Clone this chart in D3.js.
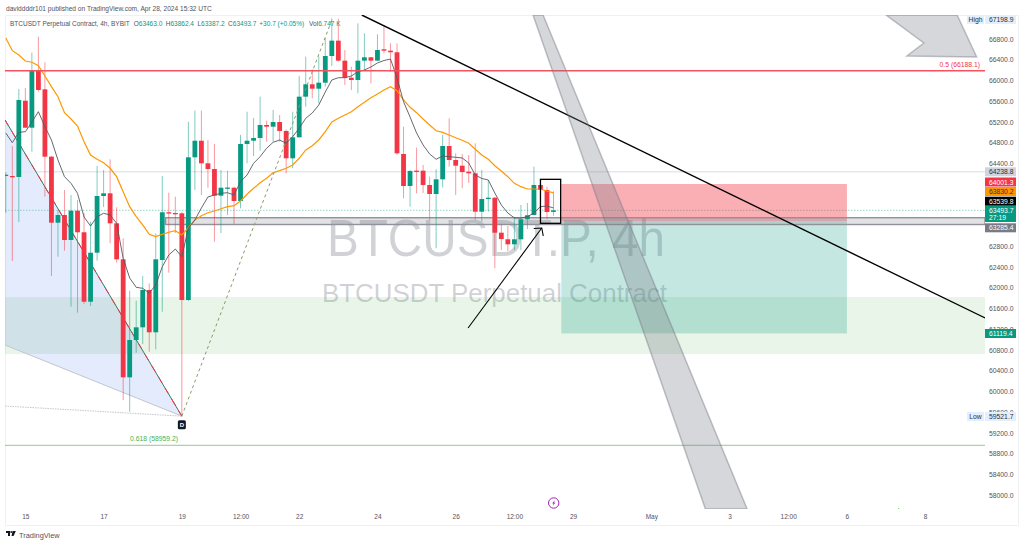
<!DOCTYPE html>
<html>
<head>
<meta charset="utf-8">
<script src="https://cdn.jsdelivr.net/npm/d3@7"></script>
<style>
  html, body { margin: 0; padding: 0; background: #fff; overflow: hidden; }
  text { font-family: "Liberation Sans", sans-serif; }
</style>
</head>
<body>
<div id="chart"></div>
<script>
///// DATA /////
// 4h bars, the first one is Apr 14 20:00
let opens = [64156,64156,64137,65609,65088,66188,65829,64529,63255,63404,62921,63487,63070,61730,62676,63770,63822,63243,62548,60271,60991,61236,61956,61140,62535,63456,63442,63436,61763,64517,64837,64401,64291,63776,63919,63930,63674,64774,64837,64890,65141,65108,65198,65025,64498,64903,65687,65926,65841,65957,66472,66768,66382,66053,66009,66382,66447,66382,66602,66575,66544,64581,63963,64259,64259,63983,63809,64092,64735,64465,64355,64239,64208,63467,63712,63737,63062,62935,62838,62935,63321,63404,63983,63886,63463];
let highs = [64233,64735,65835,65855,66536,66845,66351,64542,63487,63886,63790,63693,63442,63274,64349,64272,64479,63552,62954,61943,61750,62226,62085,63050,64156,63834,63757,63461,65204,65417,65417,64851,64774,64272,64258,63950,64948,65397,65276,65687,65224,65430,65333,65057,65397,66086,66459,66216,66459,66820,67198.9,67190,66588,66266,67103,66910,66453,66891,67071,66717,66717,65108,64272,64702,64369,64143,64286,64948,65270,64594,64581,64562,64787,64272,64079,63751,63230,63191,63371,63597,63635,64336,64098,63950,63862.4];
let lows = [63442,62516,63268,65083,64625,65783,63757,62226,62599,62715,61634,61518,61686,61647,62522,63558,62857,62483,59833,59607,60746,60914,60765,60811,61537,62290,63056,59521.7,61744,63886,63790,63930,62888,63056,63404,63230,63533,64401,64542,64645,64818,64818,64818,64208,64305,64899,65494,65656,65559,65880,66279,66362,65913,65816,65752,66202,65945,66376,66524,66169,64562,63726,63564,63822,63828,63307,62761,63938,64336,63790,63919,64021,63307,63274,63467,62375,62728,62709,62728,62728,63133,63394,63876,63321,63387.2];
let closes = [64181,64137,65623,65088,66188,65816,64529,63255,63404,62921,63487,63070,61730,62676,63770,63822,63243,62548,60271,60991,61236,61956,61140,62548,63456,63436,63430,61763,64517,64837,64401,64291,63776,63930,63934,63674,64774,64837,64890,65141,65108,65198,65025,64498,64903,65687,65926,65841,65957,66472,66768,66382,66053,66009,66382,66447,66382,66588,66575,66544,64594,63963,64253,64239,63983,63809,64092,64735,64465,64355,64233,64208,63467,63712,63737,63062,62940,62838,62935,63321,63398,63983,63886,63461,63493.7];
let emaSlow = [66820,66575,66492,66376,66351,66285,66086,65880,65687,65378,65256,65121,64818,64562,64479,64413,64305,64143,63853,63564,63371,63211,63031,62985,63031,63070,63101,63018,63158,63307,63390,63448,63481,63525,63564,63583,63674,63803,63919,64027,64112,64220,64259,64305,64369,64498,64658,64741,64851,65011,65199,65270,65334,65397,65494,65579,65667,65739,65816,65880,65802,65623,65482,65378,65256,65141,65030,64999,64947,64895,64845,64787,64672,64562,64479,64355,64253,64143,64015,63950,63905,63905,63900,63867,63830.2];
let emaFast = [64986,64799,65000,65011,65198,65397,65108,64851,64465,64143,64015,63822,63365,63191,63371,63436,63404,63243,62568,62188,62008,61989,61898,62053,62406,62632,62747,62599,63153,63307,63539,63751,63790,63822,63834,63790,64046,64175,64401,64529,64691,64807,64851,64787,64915,65077,65270,65372,65526,65777,66009,66053,66053,66086,66169,66202,66260,66337,66385,66414,66048,65590,65295,64986,64755,64581,64479,64542,64529,64517,64504,64407,64175,64108,64079,63828,63597,63442,63346,63346,63371,63442,63564,63577,63539.8];

// 64000, 63600 and 63200 are left out, the tags cover them in the reference
let priceTicks = [58000,58400,58800,59200,59600,60000,60400,60800,61200,61600,62000,62400,62800,64400,64800,65200,65600,66000,66400,66800];
let timeBars = [3,15,27,36,45,57,69,78,87,99,111,120,129,141];
let timeLabels = ['15','17','19','12:00','22','24','26','12:00','29','May','3','12:00','6','8'];

// Drawings in [bar, price]
let fibLevels = {half: 66188.1, deep: 58959.2};
let fibDiagonal = [[-0.12,65237],[27,59521.7]];
let fibLower = [[-0.12,60895],[27,59521.7]];
let fibFloor = [[-0.12,59717],[27,59521.7]];
let fibRise = [[27,59521.7],[50.1,67198.9]];
let greenZone = [61821,60721];
let grayBandBar = 24.5;
let grayBand = [63351,63220];
let trendLine = [[54.6,67263],[150.2,61416]];
let positionBars = [85.2,129];
let positionPrices = {stop: 64001.3, entry: 63285.4, target: 61119.4};
let boxBars = [82,85.1];
let boxPrices = [64092,63243];
let arrowLine = [[70.9,61223],[82.2,63153]];
let wideBand = [[80.86,67263],[82.4,67263],[113.7,57729],[107.3,57729]];
let cornerArrow = [[135,67263],[145.9,67263],[148.9,66453],[138.2,66472],[140.8,66723]];
let strayMark = [[136.9,57745],[137.2,57700]];
let highLow = {high: 67198.9, low: 59521.7};
let priceLines = {prior: 64238.8, last: 63493.7};

///// LAYOUT /////
let width = 1024, height = 545;
let pane = {left: 5, right: 985, top: 15, bottom: 509};
let upColor = '#089981', downColor = '#f23645';

let x = d3.scaleLinear().domain([0, 84]).range([5.8, 553.5]);
let y = d3.scaleLinear().domain([58000, 66800]).range([495, 39]);

let svg = d3.select('#chart').append('svg')
    .attr('width', width)
    .attr('height', height)
    .style('display', 'block');

svg.append('defs').append('clipPath').attr('id', 'paneClip')
    .append('rect')
    .attr('x', pane.left).attr('y', pane.top)
    .attr('width', pane.right - pane.left).attr('height', pane.bottom - pane.top);

// Outer frame
svg.append('rect').attr('width', width).attr('height', height).attr('fill', '#fff');
svg.append('path')
    .attr('d', 'M5.5,15.5H1018.5V525.5H5.5Z')
    .attr('fill', 'none').attr('stroke', '#eef0f3').attr('stroke-width', 1);

let chart = svg.append('g').attr('clip-path', 'url(#paneClip)');
let toPoints = pts => pts.map(p => [x(p[0]), y(p[1])].join(',')).join(' ');
let seg = d3.line().x(d => x(d[0])).y(d => y(d[1]));

///// WATERMARK /////
chart.append('text')
    .attr('x', 327).attr('y', 256)
    .attr('textLength', 338).attr('lengthAdjust', 'spacingAndGlyphs')
    .attr('font-size', 51.5)
    .attr('fill', 'rgba(120,123,134,0.34)')
    .text('BTCUSDT.P, 4h');
chart.append('text')
    .attr('x', 322).attr('y', 302)
    .attr('textLength', 345).attr('lengthAdjust', 'spacingAndGlyphs')
    .attr('font-size', 25.5)
    .attr('fill', 'rgba(120,123,134,0.34)')
    .text('BTCUSDT Perpetual Contract');

///// ZONES /////
chart.append('rect')
    .attr('x', pane.left).attr('width', pane.right - pane.left)
    .attr('y', y(greenZone[0])).attr('height', y(greenZone[1]) - y(greenZone[0]))
    .attr('fill', 'rgba(76,175,80,0.13)');

chart.append('polygon')
    .attr('points', toPoints([fibDiagonal[0], fibDiagonal[1], fibLower[0]]))
    .attr('fill', 'rgba(66,110,235,0.14)');
chart.append('path').attr('d', seg(fibLower))
    .attr('fill', 'none').attr('stroke', '#c3c6cf').attr('stroke-width', 1);
chart.append('path').attr('d', seg(fibFloor))
    .attr('fill', 'none').attr('stroke', '#c3c6cf').attr('stroke-width', 1).attr('stroke-dasharray', '1.5 1');

// Lines right across the pane
chart.append('line')
    .attr('x1', pane.left).attr('x2', pane.right)
    .attr('y1', y(priceLines.prior)).attr('y2', y(priceLines.prior))
    .attr('stroke', '#e6e8ee').attr('stroke-width', 1.5);
chart.append('line')
    .attr('x1', pane.left).attr('x2', pane.right)
    .attr('y1', y(priceLines.last)).attr('y2', y(priceLines.last))
    .attr('stroke', '#7cc9ba').attr('stroke-width', 0.8).attr('stroke-dasharray', '1.5 1.5');
chart.append('line')
    .attr('x1', pane.left).attr('x2', pane.right)
    .attr('y1', y(fibLevels.deep)).attr('y2', y(fibLevels.deep))
    .attr('stroke', '#8fca92').attr('stroke-width', 1);

///// POSITION TOOL /////
chart.append('rect')
    .attr('x', x(positionBars[0])).attr('width', x(positionBars[1]) - x(positionBars[0]))
    .attr('y', y(positionPrices.stop)).attr('height', y(positionPrices.entry) - y(positionPrices.stop))
    .attr('fill', 'rgba(242,54,69,0.40)');
chart.append('rect')
    .attr('x', x(positionBars[0])).attr('width', x(positionBars[1]) - x(positionBars[0]))
    .attr('y', y(positionPrices.entry)).attr('height', y(positionPrices.target) - y(positionPrices.entry))
    .attr('fill', 'rgba(8,153,129,0.24)');

// Gray band behind the candles
chart.append('rect')
    .attr('x', x(grayBandBar)).attr('width', pane.right - x(grayBandBar))
    .attr('y', y(grayBand[0])).attr('height', y(grayBand[1]) - y(grayBand[0]))
    .attr('fill', 'rgba(120,123,134,0.22)')
    .attr('stroke', '#8f929b').attr('stroke-width', 1.4);

///// CANDLES /////
let candles = d3.range(opens.length).map(i => ({
    bar: i, open: opens[i], high: highs[i], low: lows[i], close: closes[i]
}));

chart.append('path').attr('d', seg(fibDiagonal))
    .attr('fill', 'none').attr('stroke', '#2e7d5b').attr('stroke-width', 1);
chart.append('path').attr('d', seg(fibDiagonal))
    .attr('fill', 'none').attr('stroke', downColor).attr('stroke-width', 1).attr('stroke-dasharray', '7 6');

chart.selectAll('.wick').data(candles).enter().append('line')
    .attr('class', 'wick')
    .attr('x1', d => x(d.bar)).attr('x2', d => x(d.bar))
    .attr('y1', d => y(d.high)).attr('y2', d => y(d.low))
    .attr('stroke', d => d.close >= d.open ? upColor : downColor)
    .attr('stroke-opacity', 0.5)
    .attr('stroke-width', 1);

chart.selectAll('.body').data(candles).enter().append('rect')
    .attr('class', 'body')
    .attr('x', d => x(d.bar) - 2.4)
    .attr('width', 4.8)
    .attr('y', d => y(Math.max(d.open, d.close)))
    .attr('height', d => Math.max(1.3, Math.abs(y(d.open) - y(d.close))))
    .attr('fill', d => d.close >= d.open ? upColor : downColor);

///// AVERAGES /////
let avgLine = d3.line().x((d, i) => x(i)).y(d => y(d));
chart.append('path').attr('d', avgLine(emaSlow))
    .attr('fill', 'none').attr('stroke', '#ff9800').attr('stroke-width', 1.2);
chart.append('path').attr('d', avgLine(emaFast))
    .attr('fill', 'none').attr('stroke', '#55585f').attr('stroke-width', 0.9);

///// DRAWINGS ON TOP /////
chart.append('path').attr('d', seg(fibRise))
    .attr('fill', 'none').attr('stroke', '#8c9a68').attr('stroke-width', 1).attr('stroke-dasharray', '3 3');

chart.append('line')
    .attr('x1', pane.left).attr('x2', pane.right)
    .attr('y1', y(fibLevels.half)).attr('y2', y(fibLevels.half))
    .attr('stroke', '#f2535f').attr('stroke-width', 1.5);

chart.append('path').attr('d', seg(trendLine))
    .attr('fill', 'none').attr('stroke', '#000').attr('stroke-width', 1.4);

chart.selectAll('.shape').data([wideBand, cornerArrow]).enter().append('polygon')
    .attr('class', 'shape')
    .attr('points', d => toPoints(d))
    .attr('fill', 'rgba(120,123,134,0.30)')
    .attr('stroke', 'rgba(120,123,134,0.45)')
    .attr('stroke-width', 1.5);

chart.append('path').attr('d', seg(strayMark))
    .attr('fill', 'none').attr('stroke', '#4caf50').attr('stroke-width', 1);

chart.append('rect')
    .attr('x', x(boxBars[0])).attr('width', x(boxBars[1]) - x(boxBars[0]))
    .attr('y', y(boxPrices[0])).attr('height', y(boxPrices[1]) - y(boxPrices[0]))
    .attr('fill', 'none').attr('stroke', '#000').attr('stroke-width', 1.3);

// Arrow with an open head
let tip = [x(arrowLine[1][0]), y(arrowLine[1][1])];
chart.append('path').attr('d', seg(arrowLine))
    .attr('fill', 'none').attr('stroke', '#000').attr('stroke-width', 1.1);
chart.append('path')
    .attr('d', 'M' + (tip[0] - 8) + ',' + (tip[1] + 0.5) + 'L' + tip[0] + ',' + tip[1] + 'L' + (tip[0] + 1.5) + ',' + (tip[1] + 8))
    .attr('fill', 'none').attr('stroke', '#000').attr('stroke-width', 1.1);

///// FIB LABELS /////
chart.append('text')
    .attr('x', 980).attr('y', y(fibLevels.half) - 4)
    .attr('text-anchor', 'end').attr('font-size', 6.8).attr('fill', '#f23645')
    .text('0.5 (' + fibLevels.half + ')');
chart.append('text')
    .attr('x', 130).attr('y', y(fibLevels.deep) - 4)
    .attr('font-size', 6.8).attr('fill', '#4caf50')
    .text('0.618 (' + fibLevels.deep + ')');

///// MARKERS /////
chart.append('rect')
    .attr('x', x(27) - 4).attr('y', y(highLow.low) + 4)
    .attr('width', 8).attr('height', 9).attr('rx', 1.5).attr('fill', '#131722');
chart.append('text')
    .attr('x', x(27)).attr('y', y(highLow.low) + 11)
    .attr('text-anchor', 'middle').attr('font-size', 6).attr('font-weight', 'bold').attr('fill', '#fff')
    .text('D');

let bolt = chart.append('g').attr('transform', 'translate(553.7,503)');
bolt.append('circle').attr('r', 5.2).attr('fill', '#fff').attr('stroke', '#9c27b0').attr('stroke-width', 1);
bolt.append('path').attr('d', 'M1.2,-3L-1.5,0.5H0L-1,3L1.7,-0.6H0.2Z').attr('fill', '#9c27b0');

///// PRICE AXIS /////
let yAxis = d3.axisRight(y)
    .tickValues(priceTicks)
    .tickFormat(d3.format('.1f'))
    .tickSize(0);
svg.append('g')
    .attr('transform', 'translate(' + pane.right + ',0)')
    .call(yAxis)
    .call(g => g.select('.domain').remove())
    .call(g => g.selectAll('text')
        .attr('x', 4)
        .attr('font-size', 6.8)
        .attr('font-family', '"Liberation Sans", sans-serif')
        .attr('fill', '#50535e'));

// Tags over the axis, stacked where they would touch
let tags = [
    {value: priceLines.prior, top: 167.3, h: 9, bg: '#d1d4dc', fg: '#2a2e39'},
    {value: positionPrices.stop, top: 177.5, h: 9, bg: downColor, fg: '#fff'},
    {value: emaSlow[emaSlow.length - 1], top: 187, h: 9, bg: '#ff9800', fg: '#2a2e39'},
    {value: emaFast[emaFast.length - 1], top: 196.7, h: 9, bg: '#000', fg: '#fff'},
    {value: priceLines.last, top: 206, h: 16, bg: upColor, fg: '#fff', sub: '27:19'},
    {value: positionPrices.entry, top: 223.3, h: 9, bg: '#787b86', fg: '#fff'},
    {value: positionPrices.target, top: 329, h: 9, bg: upColor, fg: '#fff'},
    {value: highLow.high, top: 15, h: 9, bg: '#e3effd', fg: '#2a2e39', side: 'High'},
    {value: highLow.low, top: 412, h: 9, bg: '#e3effd', fg: '#2a2e39', side: 'Low'}
];

let tagGroup = svg.append('g');
tags.forEach(t => {
    tagGroup.append('rect')
        .attr('x', 985).attr('y', t.top).attr('width', 31).attr('height', t.h).attr('fill', t.bg);
    tagGroup.append('text')
        .attr('x', 989).attr('y', t.top + 7).attr('font-size', 6.8).attr('fill', t.fg)
        .text(d3.format('.1f')(t.value));
    if (t.sub) {
        tagGroup.append('text')
            .attr('x', 989).attr('y', t.top + 14.3).attr('font-size', 6.8).attr('fill', t.fg)
            .text(t.sub);
    }
    if (t.side) {
        tagGroup.append('rect')
            .attr('x', 967).attr('y', t.top).attr('width', 17).attr('height', t.h).attr('fill', t.bg);
        tagGroup.append('text')
            .attr('x', 975.5).attr('y', t.top + 7).attr('text-anchor', 'middle').attr('font-size', 6.8).attr('fill', t.fg)
            .text(t.side);
    }
});

///// TIME AXIS /////
let xAxis = d3.axisBottom(x)
    .tickValues(timeBars)
    .tickFormat((d, i) => timeLabels[i])
    .tickSize(0);
svg.append('g')
    .attr('transform', 'translate(0,' + pane.bottom + ')')
    .call(xAxis)
    .call(g => g.select('.domain').remove())
    .call(g => g.selectAll('text')
        .attr('y', 5)
        .attr('font-size', 6.5)
        .attr('font-family', '"Liberation Sans", sans-serif')
        .attr('fill', '#50535e'));

///// HEADER AND FOOTER /////
svg.append('text')
    .attr('x', 6).attr('y', 11)
    .attr('font-size', 6.6).attr('fill', '#50535e')
    .text('daviddddr101 published on TradingView.com, Apr 28, 2024 15:32 UTC');

let legend = svg.append('text').attr('x', 10).attr('y', 26).attr('font-size', 6.5).attr('fill', '#50535e');
let up = upColor;
legend.append('tspan').text('BTCUSDT Perpetual Contract, 4h, BYBIT');
[['O', '63463.0'], ['H', '63862.4'], ['L', '63387.2'], ['C', '63493.7']].forEach((d, i) => {
    legend.append('tspan').attr('dx', i == 0 ? 4 : 3.5).text(d[0]);
    legend.append('tspan').attr('fill', up).text(d[1]);
});
legend.append('tspan').attr('dx', 3).attr('fill', up).text('+30.7 (+0.05%)');
legend.append('tspan').attr('dx', 5).text('Vol');
legend.append('tspan').attr('fill', up).text('6.747 K');

// Logo is drawn roughly
let logo = svg.append('g').attr('transform', 'translate(6,531)').attr('fill', '#131722');
logo.append('path').attr('d', 'M0,0H4V5H2V2H0Z');
logo.append('circle').attr('cx', 5.2).attr('cy', 1).attr('r', 0.9);
logo.append('path').attr('d', 'M6.5,0H9.8L7.6,5H5.6Z');
svg.append('text')
    .attr('x', 19).attr('y', 538)
    .attr('font-size', 7.4).attr('fill', '#50535e')
    .text('TradingView');
</script>
</body>
</html>
